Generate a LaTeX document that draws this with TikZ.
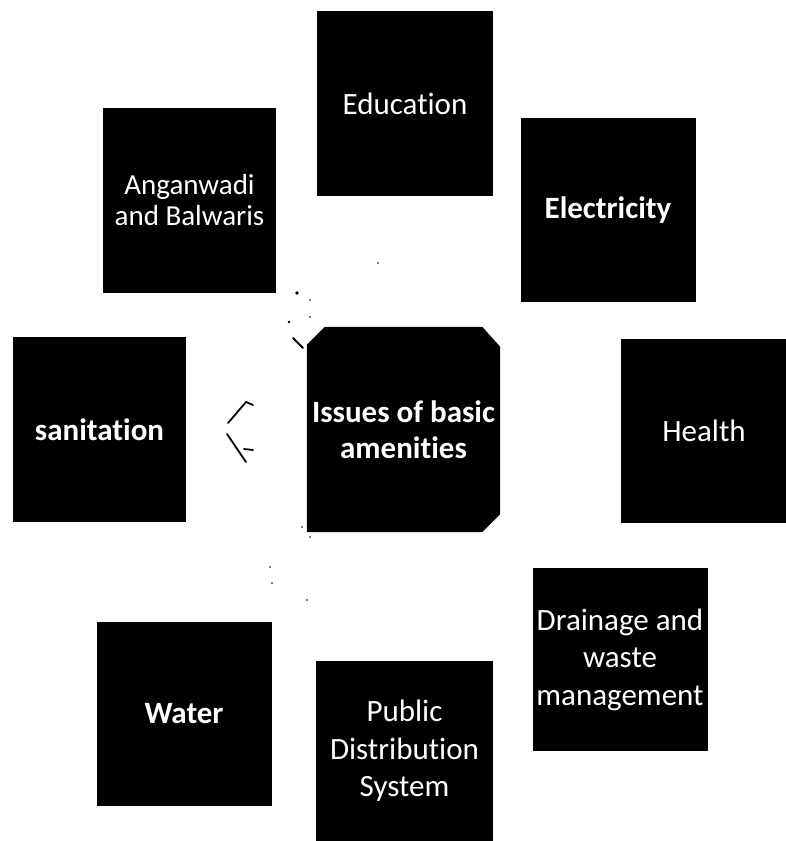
\documentclass[tikz,border=0pt]{standalone}
\usepackage{fontspec}
\setmainfont[RawFeature={-liga;-clig;-calt;-dlig}]{Carlito}
\tikzset{
  box/.style={fill=black, text=white, align=center, inner sep=0pt,
    font=\fontsize{31}{37.5}\selectfont},
  boldbox/.style={box, font=\fontsize{31}{36}\selectfont\bfseries},
  speck/.style={line width=1.8pt, line cap=round, black}
}
\begin{document}
\begin{tikzpicture}[x=1pt,y=-1pt]
\useasboundingbox (0,0) rectangle (786,841);
% outer boxes
\node[box, minimum width=176, minimum height=185] (edu) at (405,103.5) {Education};
\node[box, minimum width=173, minimum height=185, font=\fontsize{29}{31}\selectfont] (ang) at (189.5,200.5) {Anganwadi\\and Balwaris};
\node[boldbox, minimum width=175, minimum height=184] (ele) at (608,210) {Electricity};
\node[boldbox, minimum width=173, minimum height=185] (san) at (99.5,429.5) {sanitation};
\node[box, minimum width=166, minimum height=184] (hea) at (704,431) {Health};
\node[box, minimum width=175, minimum height=183] (dra) at (620,659.5) {Drainage and\\waste\\management};
\node[boldbox, minimum width=175, minimum height=184] (wat) at (184,714) {Water};
\node[box, minimum width=177, minimum height=180] (pds) at (404.5,751) {Public\\Distribution\\System};
% centre with three cut corners
\node[minimum width=193, minimum height=205, inner sep=0pt] (ctrshape) at (403.5,429.5) {};
\fill ([yshift=-18pt]ctrshape.north west) -- ([xshift=18pt]ctrshape.north west)
  -- ([xshift=-18pt]ctrshape.north east) -- ([yshift=-20pt]ctrshape.north east)
  -- ([yshift=18pt]ctrshape.south east) -- ([xshift=-18pt]ctrshape.south east)
  -- (ctrshape.south west) -- cycle;
\node[boldbox, fill=none] (ctr) at (ctrshape.center) {Issues of basic\\amenities};
% faint specks
\draw[speck] (228,423) -- (246,402) -- (253,405);
\draw[speck] (227,434) -- (246,462);
\draw[speck] (244,449) -- (253,450);
\draw[speck] (293,338) -- (303,348);
\fill (297,293) circle (1.8);
\fill (310,300) circle (0.9);
\fill (310,317) circle (0.9);
\fill (289,322) circle (1.3);
\fill (378,263) circle (0.9);
\fill (302,527) circle (0.9);
\fill (310,537) circle (0.9);
\fill (270,567) circle (0.9);
\fill (272,583) circle (0.9);
\fill (307,600) circle (0.9);
\end{tikzpicture}
\end{document}
